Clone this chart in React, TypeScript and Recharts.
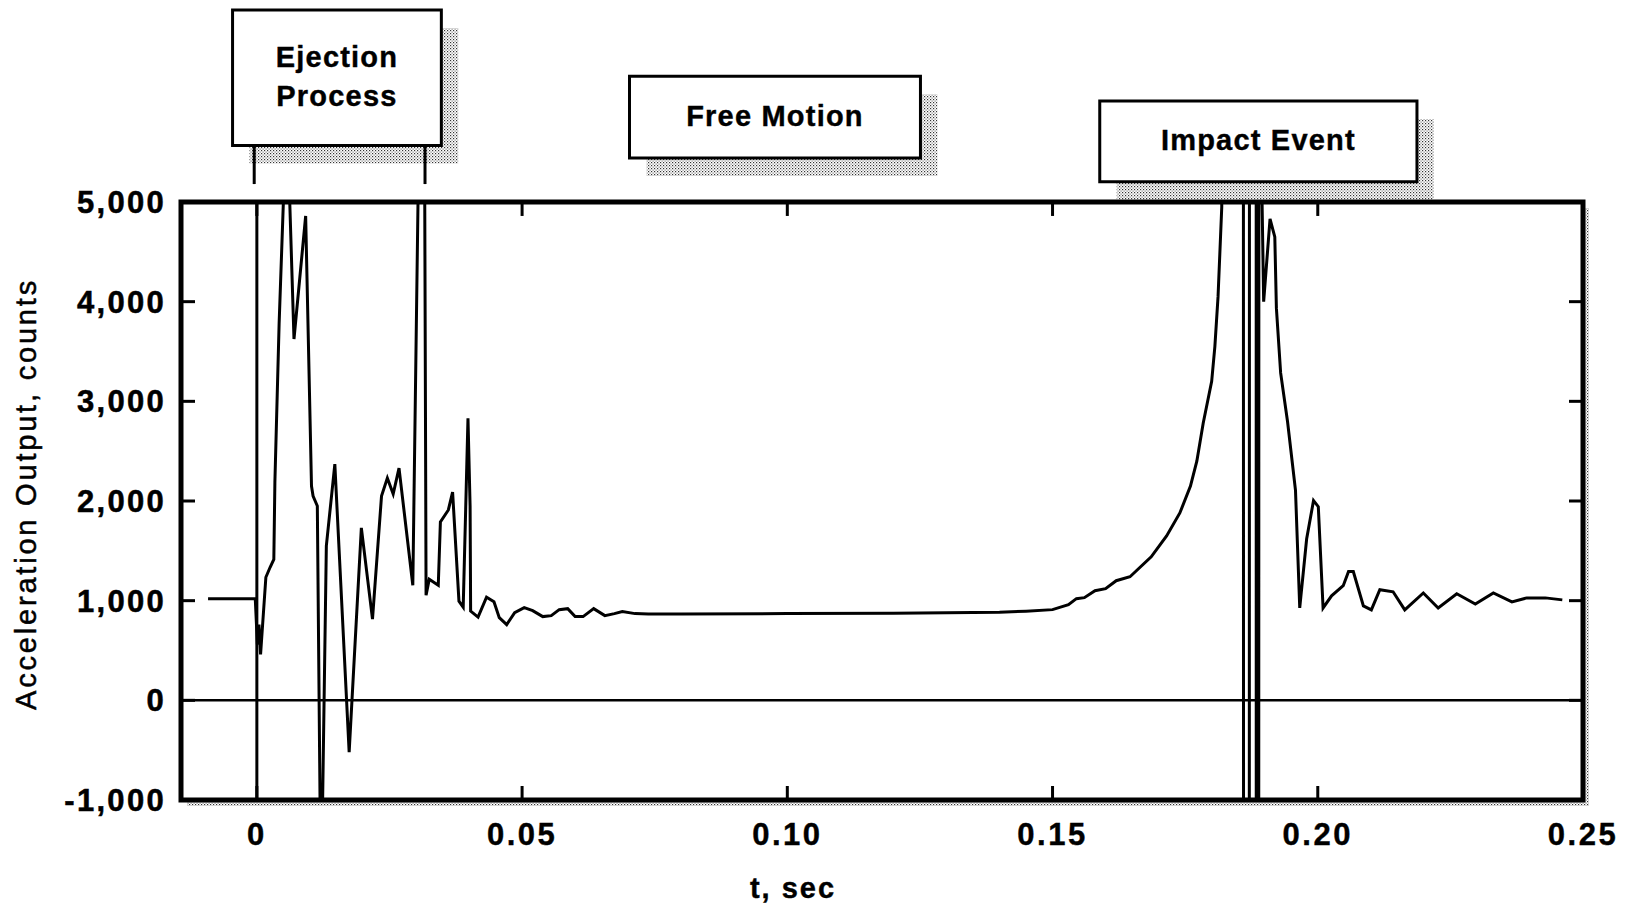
import React from 'react';
import { LineChart, Line, XAxis, YAxis, ReferenceLine, ReferenceArea, Label } from 'recharts';

// ---- data (t in seconds, acceleration output in counts) ----
const ejectT = [-0.0092, -0.0003, 0.0001, 0.0004, 0.0007, 0.0017, 0.0025, 0.0032, 0.0034, 0.0042, 0.005, 0.0056, 0.0062, 0.007, 0.0092, 0.0103, 0.0106, 0.0114, 0.0121, 0.0131, 0.0147, 0.0174, 0.0197, 0.0218, 0.0235, 0.0246, 0.0257, 0.0268, 0.0294, 0.0314, 0.0319, 0.0325, 0.0342, 0.0346, 0.0361, 0.0369, 0.0381, 0.0389, 0.0398, 0.0402, 0.0403, 0.0417, 0.0433];
const ejectV = [1020, 1020, 560, 760, 460, 1235, 1335, 1415, 2190, 3785, 5000, 5600, 5000, 3625, 4860, 2150, 2050, 1950, -2100, 1550, 2370, -520, 1730, 815, 2050, 2230, 2070, 2330, 1155, 9000, 1055, 1215, 1155, 1790, 1910, 2090, 995, 935, 2830, 1950, 895, 835, 1035];

const freeT = [0.0447, 0.0457, 0.0471, 0.0486, 0.0504, 0.052, 0.0539, 0.0555, 0.057, 0.0586, 0.06, 0.0615, 0.0635, 0.0656, 0.0674, 0.0689, 0.0713, 0.0738, 0.08, 0.1, 0.12, 0.14, 0.145, 0.15, 0.153, 0.1545, 0.156, 0.158, 0.16, 0.162, 0.1646, 0.1686, 0.1715, 0.174, 0.176, 0.1772, 0.1784, 0.18, 0.1806, 0.1812, 0.1819];
const freeV = [990, 830, 760, 880, 930, 900, 840, 850, 910, 920, 840, 840, 920, 850, 870, 890, 870, 865, 865, 870, 875, 885, 895, 910, 960, 1020, 1030, 1100, 1120, 1200, 1240, 1440, 1650, 1880, 2150, 2400, 2780, 3200, 3550, 4050, 4950];

const impactT = [0.1822, 0.1858, 0.1862, 0.1869, 0.1873, 0.1883, 0.1885, 0.1887, 0.1889, 0.1898, 0.191, 0.1919, 0.1922, 0.193, 0.1943, 0.1958, 0.1966, 0.1979, 0.1992, 0.2001, 0.201, 0.2026, 0.2048, 0.2058, 0.2067, 0.2086, 0.2101, 0.2117, 0.2142, 0.2164, 0.2199, 0.2227, 0.2262, 0.2297, 0.2331, 0.2366, 0.2394, 0.2429, 0.2461];
const impactV = [60000, 60000, -60000, -60000, 60000, 60000, -60000, -60000, 7000, 4000, 4830, 4650, 3935, 3285, 2797, 2106, 927, 1618, 2004, 1943, 927, 1049, 1150, 1293, 1293, 947, 907, 1110, 1089, 907, 1077, 927, 1069, 967, 1077, 988, 1028, 1028, 1008];

const xTicks = [0, 0.05, 0.1, 0.15, 0.2, 0.25];
const xTickLabels = ['0', '0.05', '0.10', '0.15', '0.20', '0.25'];
const yTicks = [-1000, 0, 1000, 2000, 3000, 4000, 5000];
const yTickLabels = ['-1,000', '0', '1,000', '2,000', '3,000', '4,000', '5,000'];

const phaseLabels = [['Ejection', 'Process'], ['Free Motion'], ['Impact Event']];
const phaseT0 = [-0.00458, 0.07025, 0.1589];
const phaseT1 = [0.03478, 0.1251, 0.2187];
const phaseTop = [6927, 6262, 6013];
const phaseBottom = [5566, 5442, 5203];
const bracketT = [-0.0005, 0.0317];

const X_DOMAIN: [number, number] = [-0.0143, 0.25];
const Y_DOMAIN: [number, number] = [-1000, 5000];

const data = [
  ...ejectT.map((t, i) => ({ t, v: ejectV[i] })),
  ...freeT.map((t, i) => ({ t, v: freeV[i] })),
  ...impactT.map((t, i) => ({ t, v: impactV[i] })),
];

const FONT = '"Liberation Sans", Arial, Helvetica, sans-serif';
const yTickStyle = { fontFamily: FONT, fontWeight: 700, fontSize: 31, fill: '#000', stroke: '#000', strokeWidth: 0.5, letterSpacing: 2.3 };
const xTickStyle = { fontFamily: FONT, fontWeight: 700, fontSize: 31, fill: '#000', stroke: '#000', strokeWidth: 0.4, letterSpacing: 2.5 };
const boxFont = { fontFamily: FONT, fontWeight: 700, fontSize: 29, fill: '#000', stroke: '#000', strokeWidth: 0.4, letterSpacing: 1.2 };

const SX = 0.0032; // shadow offset in t
const SY = 180; // shadow offset in counts

const boxLabel = (lines: string[]) => (props: any) => {
  const vb = props.viewBox || {};
  const cx = vb.x + vb.width / 2;
  const cy = vb.y + vb.height / 2 - 1;
  const lh = 39;
  const start = cy - ((lines.length - 1) * lh) / 2;
  return (
    <text textAnchor="middle" dominantBaseline="central" style={boxFont}>
      {lines.map((l, i) => (
        <tspan key={i} x={cx} y={start + i * lh}>{l}</tspan>
      ))}
    </text>
  );
};

const yTitle = (props: any) => {
  const vb = props.viewBox || {};
  const x = vb.x + 16;
  const y = vb.y + vb.height / 2 - 7;
  return (
    <text x={x} y={y} transform={`rotate(-90 ${x} ${y})`} textAnchor="middle" dominantBaseline="central"
      style={{ fontFamily: FONT, fontSize: 29, fill: '#000', stroke: '#000', strokeWidth: 0.5, letterSpacing: 2.8 }}>
      Acceleration Output, counts
    </text>
  );
};

const xTitle = (props: any) => {
  const vb = props.viewBox || {};
  const x = vb.x + 612;
  const y = vb.y + 88;
  return (
    <text x={x} y={y} textAnchor="middle" dominantBaseline="central" style={{ ...xTickStyle, fontSize: 29, letterSpacing: 2 }}>
      t, sec
    </text>
  );
};

export default function App() {
  const tickLenX = 0.00264;
  const tickLenY = 140;
  return (
    <div style={{ position: 'absolute', left: 0, top: 0, width: 1629, height: 905, background: '#fff' }}>
      <LineChart width={1629} height={905} data={data} margin={{ top: 202, right: 46, bottom: 5, left: 10 }}>
        <defs>
          <pattern id="stipple" width="3" height="3" patternUnits="userSpaceOnUse">
            <rect x="0" y="0" width="1.2" height="1.2" fill="#333" />
            <rect x="1.5" y="1.5" width="1.2" height="1.2" fill="#777" />
          </pattern>
        </defs>
        <XAxis dataKey="t" type="number" domain={X_DOMAIN} allowDataOverflow ticks={xTicks}
          tickFormatter={(v: number) => xTickLabels[xTicks.indexOf(v)] ?? ''}
          tick={xTickStyle} tickSize={-14} tickMargin={37} height={100}
          axisLine={false} tickLine={{ stroke: '#000', strokeWidth: 3 }} interval={0}>
          <Label content={xTitle} />
        </XAxis>
        <YAxis type="number" domain={Y_DOMAIN} allowDataOverflow ticks={yTicks}
          tickFormatter={(v: number) => yTickLabels[yTicks.indexOf(v)] ?? ''}
          tick={yTickStyle} tickSize={-14} tickMargin={29} width={171}
          axisLine={false} tickLine={{ stroke: '#000', strokeWidth: 3 }} interval={0}>
          <Label content={yTitle} />
        </YAxis>

        {/* frame shadow + frame */}
        <ReferenceArea x1={X_DOMAIN[0] + 0.00113} x2={X_DOMAIN[1] + 0.00113} y1={Y_DOMAIN[0] - 60} y2={Y_DOMAIN[1] - 60}
          ifOverflow="visible" fill="url(#stipple)" fillOpacity={1} stroke="none" />
        <ReferenceArea x1={X_DOMAIN[0]} x2={X_DOMAIN[1]} y1={Y_DOMAIN[0]} y2={Y_DOMAIN[1]}
          ifOverflow="visible" fill="#fff" fillOpacity={1} stroke="#000" strokeWidth={5} />

        {/* phase boxes with shadows */}
        {phaseLabels.map((lines, i) => (
          <ReferenceArea key={'s' + i} x1={phaseT0[i] + SX} x2={phaseT1[i] + SX} y1={phaseBottom[i] - SY} y2={phaseTop[i] - SY}
            ifOverflow="visible" fill="url(#stipple)" fillOpacity={1} stroke="none" />
        ))}
        {bracketT.map((t, i) => (
          <ReferenceLine key={'b' + i} segment={[{ x: t, y: phaseBottom[0] }, { x: t, y: 5180 }]} ifOverflow="visible"
            stroke="#000" strokeWidth={3} />
        ))}
        {phaseLabels.map((lines, i) => (
          <ReferenceArea key={'p' + i} x1={phaseT0[i]} x2={phaseT1[i]} y1={phaseBottom[i]} y2={phaseTop[i]}
            ifOverflow="visible" fill="#fff" fillOpacity={1} stroke="#000" strokeWidth={3}>
            <Label content={boxLabel(lines)} />
          </ReferenceArea>
        ))}

        {/* top and right inward ticks */}
        {xTicks.map((t) => (
          <ReferenceLine key={'tt' + t} segment={[{ x: t, y: Y_DOMAIN[1] }, { x: t, y: Y_DOMAIN[1] - tickLenY }]}
            ifOverflow="visible" stroke="#000" strokeWidth={3} />
        ))}
        {yTicks.map((v) => (
          <ReferenceLine key={'rt' + v} segment={[{ x: X_DOMAIN[1], y: v }, { x: X_DOMAIN[1] - tickLenX, y: v }]}
            ifOverflow="visible" stroke="#000" strokeWidth={3} />
        ))}

        <ReferenceLine y={0} stroke="#000" strokeWidth={2.5} />
        <ReferenceLine x={0} stroke="#000" strokeWidth={3} />

        <Line type="linear" dataKey="v" stroke="#000" strokeWidth={3} dot={false} isAnimationActive={false}
          strokeLinejoin="miter" />
      </LineChart>
    </div>
  );
}
